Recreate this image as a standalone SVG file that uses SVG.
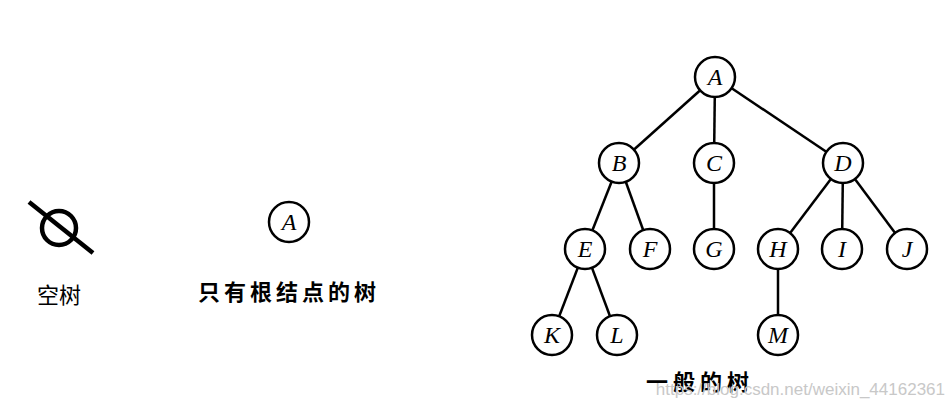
<svg xmlns="http://www.w3.org/2000/svg" width="952" height="409" viewBox="0 0 952 409">
<style>
.n circle{fill:#fff;stroke:#000;stroke-width:2.5}
.n text{font-family:"Liberation Serif",serif;font-style:italic;font-size:24px;text-anchor:middle}
.e line{stroke:#000;stroke-width:2.5}
.cap{font-family:"Noto Sans CJK SC",sans-serif;font-size:22px}
</style>
<rect width="952" height="409" fill="#fff"/>
<g id="empty">
<circle cx="59" cy="228" r="17" fill="none" stroke="#000" stroke-width="4.5"/>
<line x1="29" y1="202" x2="93" y2="253" stroke="#000" stroke-width="4.5"/>
<text class="cap" x="59" y="303" text-anchor="middle">空树</text>
</g>
<g id="root-only" class="n">
<circle cx="289" cy="222" r="20"/><text x="289" y="230">A</text>
</g>
<text class="cap" x="289" y="300" text-anchor="middle" font-weight="bold" letter-spacing="4">只有根结点的树</text>
<g id="edges" class="e">
<line x1="715" y1="77" x2="619" y2="163"/>
<line x1="715" y1="77" x2="714" y2="163"/>
<line x1="715" y1="77" x2="843" y2="163"/>
<line x1="619" y1="163" x2="585" y2="249"/>
<line x1="619" y1="163" x2="650" y2="249"/>
<line x1="714" y1="163" x2="714" y2="249"/>
<line x1="843" y1="163" x2="778" y2="249"/>
<line x1="843" y1="163" x2="842" y2="249"/>
<line x1="843" y1="163" x2="907" y2="249"/>
<line x1="585" y1="249" x2="552" y2="335"/>
<line x1="585" y1="249" x2="617" y2="335"/>
<line x1="778" y1="249" x2="778" y2="335"/>
</g>
<g id="A" class="n"><circle cx="715" cy="77" r="20"/><text x="715" y="85">A</text></g>
<g id="B" class="n"><circle cx="619" cy="163" r="20"/><text x="619" y="171">B</text></g>
<g id="C" class="n"><circle cx="714" cy="163" r="20"/><text x="714" y="171">C</text></g>
<g id="D" class="n"><circle cx="843" cy="163" r="20"/><text x="843" y="171">D</text></g>
<g id="E" class="n"><circle cx="585" cy="249" r="20"/><text x="585" y="257">E</text></g>
<g id="F" class="n"><circle cx="650" cy="249" r="20"/><text x="650" y="257">F</text></g>
<g id="G" class="n"><circle cx="714" cy="249" r="20"/><text x="714" y="257">G</text></g>
<g id="H" class="n"><circle cx="778" cy="249" r="20"/><text x="778" y="257">H</text></g>
<g id="I" class="n"><circle cx="842" cy="249" r="20"/><text x="842" y="257">I</text></g>
<g id="J" class="n"><circle cx="907" cy="249" r="20"/><text x="907" y="257">J</text></g>
<g id="K" class="n"><circle cx="552" cy="335" r="20"/><text x="552" y="343">K</text></g>
<g id="L" class="n"><circle cx="617" cy="335" r="20"/><text x="617" y="343">L</text></g>
<g id="M" class="n"><circle cx="778" cy="335" r="20"/><text x="778" y="343">M</text></g>
<text class="cap" x="700" y="390" text-anchor="middle" font-weight="bold" font-size="24" letter-spacing="5">一般的树</text>
<text x="945" y="395" text-anchor="end" font-family="Liberation Sans,sans-serif" font-size="17" fill="#c8c8c8">https://blog.csdn.net/weixin_44162361</text>
</svg>
